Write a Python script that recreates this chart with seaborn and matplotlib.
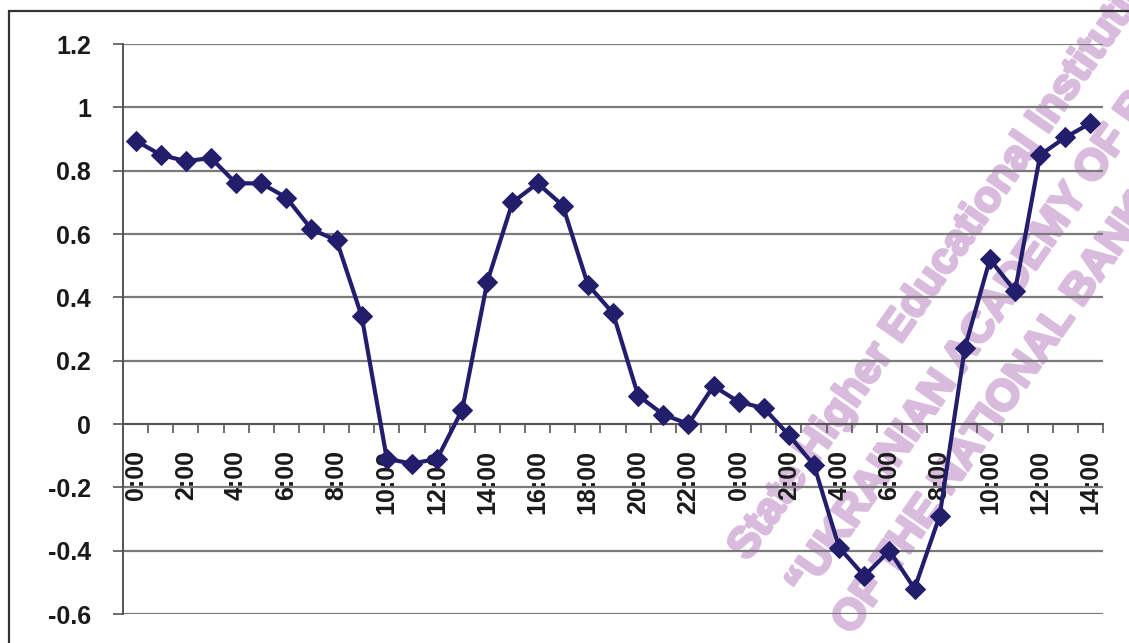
import matplotlib
matplotlib.use("Agg")
import matplotlib.pyplot as plt
import matplotlib.patheffects as pe
import seaborn as sns
import pandas as pd
from matplotlib.patches import Rectangle

# ---- data ----
hour_labels = ["0:00", "1:00", "2:00", "3:00", "4:00", "5:00", "6:00", "7:00", "8:00", "9:00",
               "10:00", "11:00", "12:00", "13:00", "14:00", "15:00", "16:00", "17:00", "18:00", "19:00",
               "20:00", "21:00", "22:00", "23:00", "0:00", "1:00", "2:00", "3:00", "4:00", "5:00",
               "6:00", "7:00", "8:00", "9:00", "10:00", "11:00", "12:00", "13:00", "14:00"]
values = [0.895, 0.85, 0.83, 0.84, 0.76, 0.76, 0.715, 0.615, 0.58, 0.34,
          -0.11, -0.125, -0.11, 0.045, 0.45, 0.70, 0.76, 0.69, 0.44, 0.35,
          0.09, 0.03, 0.0, 0.12, 0.07, 0.05, -0.035, -0.13, -0.39, -0.48,
          -0.40, -0.52, -0.29, 0.24, 0.52, 0.42, 0.85, 0.905, 0.95]
y_ticks = [-0.6, -0.4, -0.2, 0, 0.2, 0.4, 0.6, 0.8, 1.0, 1.2]
y_tick_labels = ["-0.6", "-0.4", "-0.2", "0", "0.2", "0.4", "0.6", "0.8", "1", "1.2"]
watermark = ["State Higher Educational Institution",
             "\u201cUKRAINIAN ACADEMY OF BANKING",
             "OF THE NATIONAL BANK OF UKRAINE\u201d"]

df = pd.DataFrame({"pos": range(len(values)), "value": values})

sns.set_theme(style="white")
plt.rcParams["font.family"] = ["Liberation Sans", "DejaVu Sans"]

W, H = 1129, 643
fig = plt.figure(figsize=(W / 100, H / 100), dpi=100)
ax = fig.add_axes([123 / W, 1 - 614 / H, (1103 - 123) / W, (614 - 44) / H])
ax.set_axisbelow(True)

line_color = "#231E6C"
sns.lineplot(data=df, x="pos", y="value", ax=ax, color=line_color, lw=3.0,
             marker="D", markersize=10, markeredgecolor=line_color,
             markerfacecolor=line_color, zorder=5)

ax.set_xlim(-0.5, len(values) - 0.5)
ax.set_ylim(-0.6, 1.2)
ax.set_xlabel("")
ax.set_ylabel("")

# y axis
ax.set_yticks(y_ticks)
ax.set_yticklabels(y_tick_labels, fontsize=18, fontweight="bold", color="#1a1a1a")
ax.yaxis.grid(True, color="#7a7a7a", lw=1.6)
ax.xaxis.grid(False)
ax.tick_params(axis="y", direction="out", length=7, width=1.2, color="#555555", pad=16, left=True)

# x axis on zero line
ax.spines["bottom"].set_position(("data", 0))
ax.spines["bottom"].set_color("#555555")
ax.spines["bottom"].set_linewidth(1.4)
ax.spines["left"].set_color("#555555")
ax.spines["left"].set_linewidth(1.4)
ax.spines["top"].set_visible(False)
ax.spines["right"].set_visible(False)

major = list(range(0, len(values), 2))
ax.set_xticks(major)
ax.set_xticklabels([hour_labels[i] for i in major], rotation=90, fontsize=18,
                   fontweight="bold", color="#1a1a1a", va="top")
ax.set_xticks([i - 0.5 for i in range(len(values) + 1)], minor=True)
ax.tick_params(axis="x", which="major", length=0, pad=19, bottom=True)
ax.tick_params(axis="x", which="minor", length=6.5, width=1.2, color="#555555", direction="out", bottom=True)

# outer chart border
fig.patches.append(Rectangle((9 / W, -0.1), 1.2, 1 - 11 / H + 0.1, transform=fig.transFigure,
                             fill=False, edgecolor="#333333", lw=1.6))

# watermark (drawn under axis labels, gridlines and the data line)
wm_color = "#D9BCDD"
starts = [(748, 562), (806, 598), (852, 636)]
for (px, py), txt in zip(starts, watermark):
    ax.text(px / W, 1 - py / H, txt, transform=fig.transFigure, clip_on=False,
            rotation=55, rotation_mode="anchor", ha="left", va="baseline",
            fontsize=31, fontweight="bold", color=wm_color, zorder=0.2,
            path_effects=[pe.Stroke(linewidth=2.2, foreground=wm_color), pe.Normal()])

fig.savefig("out.png", dpi=100)
